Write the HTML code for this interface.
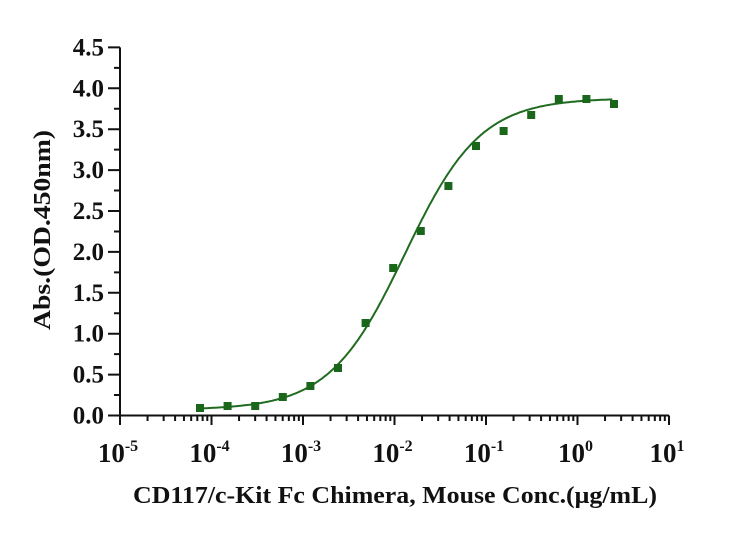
<!DOCTYPE html>
<html><head><meta charset="utf-8"><style>
body{margin:0;background:#fff;}
svg text{font-family:"Liberation Serif",serif;font-weight:bold;fill:#111;}
</style></head><body>
<svg id="s" width="746" height="534" xmlns="http://www.w3.org/2000/svg">
<g id="g" stroke="#111" stroke-width="2" fill="none"></g>
<g id="t" font-size="25"></g>
<path id="c" stroke="#1f6b1f" stroke-width="2" fill="none"/>
<g id="p" fill="#1a661a"></g>
<text x="50" y="230" font-size="24" text-anchor="middle" textLength="200" lengthAdjust="spacingAndGlyphs" transform="rotate(-90 50 230)">Abs.(OD.450nm)</text>
<text x="395" y="503" font-size="24" text-anchor="middle" textLength="524" lengthAdjust="spacingAndGlyphs">CD117/c-Kit Fc Chimera, Mouse Conc.(μg/mL)</text>
</svg>
<script>
var ns="http://www.w3.org/2000/svg";
function X(l){return 120+(l+5)*91.5;}
function Y(v){return 415.5-v*81.8;}
var g=document.getElementById('g'),t=document.getElementById('t'),d="";
d+="M120 "+Y(4.5)+"V415.5H669";
for(var i=0;i<=9;i++){var v=i*0.5,y=Y(v);d+="M108 "+y+"H120";
 var e=document.createElementNS(ns,'text');e.setAttribute('x',104);e.setAttribute('y',y+8);e.setAttribute('text-anchor','end');e.textContent=v.toFixed(1);t.appendChild(e);
 if(i<9){d+="M114 "+Y(v+0.25)+"H120";}}
for(var k=-5;k<=1;k++){var x=X(k);d+="M"+x+" 415.5V425";
 var e=document.createElementNS(ns,'text');e.setAttribute('x',x-2);e.setAttribute('y',462);e.setAttribute('text-anchor','middle');e.setAttribute('font-size','27');e.innerHTML='10<tspan font-size="16" dy="-11">'+k+'</tspan>';t.appendChild(e);
 if(k<1)for(var m=2;m<=9;m++){var xm=X(k+Math.log10(m));d+="M"+xm+" 415.5V421";}}
var p=document.createElementNS(ns,'path');p.setAttribute('d',d);g.appendChild(p);
function f(c){return 0.07+3.81/(1+Math.pow(0.013/c,1.05));}
var cd="";for(var l=Math.log10(7.6e-5);l<=Math.log10(2.45);l+=0.02){cd+=(cd?"L":"M")+X(l).toFixed(1)+" "+Y(f(Math.pow(10,l))).toFixed(1);}
document.getElementById('c').setAttribute('d',cd);
var py=[408,406,406,397,386,368,323,268,231,186,146,131,115,99,99,104],pg=document.getElementById('p');
for(var i=0;i<16;i++){var r=document.createElementNS(ns,'rect');r.setAttribute('x',200+i*27.6-4);r.setAttribute('y',py[i]-4);r.setAttribute('width',8);r.setAttribute('height',8);pg.appendChild(r);}
</script>
</body></html>
